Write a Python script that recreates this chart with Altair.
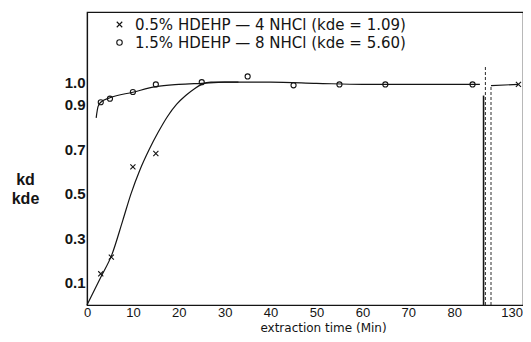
import altair as alt
import pandas as pd

# ---- data ----
S1 = "0.5% HDEHP — 4 NHCl (kde = 1.09)"
S2 = "1.5% HDEHP — 8 NHCl (kde = 5.60)"

# fitted curve, 0.5% series (x markers)
cx_t = [0, 3, 5.4, 7.8, 9.6, 11.5, 13.6, 15.5, 17.5, 19.5, 21.5, 23.5, 25, 27, 30, 33]
cx_v = [0, 0.125, 0.225, 0.38, 0.50, 0.605, 0.70, 0.775, 0.845, 0.90, 0.94, 0.972, 0.99, 1.0, 1.0, 1.0]
# fitted curve, 1.5% series (circles)
co_t = [2.0, 2.4, 3, 5, 10, 15, 20, 25, 30, 35, 40, 50, 60, 70, 80, 85.6]
co_v = [0.84, 0.89, 0.91, 0.93, 0.955, 0.98, 0.99, 0.995, 1.0, 1.0, 1.0, 0.995, 0.99, 0.99, 0.99, 0.99]
# curve after the axis break
ct_t = [124, 130]
ct_v = [0.985, 0.99]

# measured points
px_t = [3, 5.3, 10, 15, 130]
px_v = [0.14, 0.215, 0.62, 0.68, 0.99]
po_t = [3, 5, 10, 15, 25, 35, 45, 55, 65, 84]
po_v = [0.91, 0.926, 0.956, 0.99, 1.0, 1.026, 0.986, 0.99, 0.99, 0.99]

# axis-break lines
brk_solid_t = [86.4]
brk_solid_top = [0.94]
brk_dash_t = [86.8, 124]
brk_dash_top = [1.07, 0.985]

x_ticks = [0, 10, 20, 30, 40, 50, 60, 70, 80, 130]
y_ticks = [0.1, 0.3, 0.5, 0.7, 0.9, 1.0]

curves = pd.concat([
    pd.DataFrame({"t": cx_t, "v": cx_v, "g": "a"}),
    pd.DataFrame({"t": co_t, "v": co_v, "g": "b"}),
    pd.DataFrame({"t": ct_t, "v": ct_v, "g": "c"}),
])
points = pd.concat([
    pd.DataFrame({"t": px_t, "v": px_v, "s": S1}),
    pd.DataFrame({"t": po_t, "v": po_v, "s": S2}),
])
brk_solid = pd.DataFrame({"t": brk_solid_t, "v0": 0.0, "v1": brk_solid_top})
brk_dash = pd.DataFrame({"t": brk_dash_t, "v0": 0.0, "v1": brk_dash_top})

INK = "#141414"
xscale = alt.Scale(domain=[0, 86.8, 124, 131], range=[0, 398.4, 404, 436], nice=False, zero=False)
yscale = alt.Scale(domain=[0, 1.315], nice=False, zero=False)

xaxis = alt.Axis(values=x_ticks, format="d", title="extraction time (Min)", grid=False, ticks=False,
                 labelPadding=1, labelFont="Liberation Sans", labelFontSize=13, labelColor=INK,
                 labelAlign={"condition": {"test": "datum.value == 130", "value": "right"}, "value": "center"},
                 labelOffset={"condition": {"test": "datum.value == 130", "value": 4}, "value": 0},
                 titleFont="DejaVu Sans", titleFontSize=12, titleFontWeight="normal", titleColor=INK,
                 titleX=236, titleY=22, titleBaseline="middle", titleAnchor="start", titleAlign="center",
                 domainColor=INK, domainWidth=1.2, labelFlush=False)
yaxis = alt.Axis(values=y_ticks, format=".1f", title=["kd", "kde"], grid=False, ticks=False,
                 labelPadding=2, labelFont="Liberation Sans", labelFontSize=15, labelFontWeight="bold",
                 labelColor=INK, titleFont="Liberation Sans", titleFontSize=16, titleFontWeight="bold",
                 titleColor=INK, titleAngle=0, titleX=-62, titleY=167, titleAlign="center",
                 titleBaseline="middle", titleLineHeight=19, domainColor=INK, domainWidth=1.2)

X = alt.X("t:Q", scale=xscale, axis=xaxis)
Y = alt.Y("v:Q", scale=yscale, axis=yaxis)

lines = alt.Chart(curves).mark_line(color=INK, strokeWidth=1.2, interpolate="monotone").encode(
    x=X, y=Y, detail="g:N")

XPATH = "M-1,-1L1,1M1,-1L-1,1"
pts = alt.Chart(points).mark_point(filled=False, color=INK, strokeWidth=1.1, size=26, opacity=1).encode(
    x=alt.X("t:Q", scale=xscale), y=alt.Y("v:Q", scale=yscale),
    shape=alt.Shape("s:N", scale=alt.Scale(domain=[S1, S2], range=[XPATH, "circle"]),
                    legend=alt.Legend(title=None, orient="none", legendX=25, legendY=5,
                                      labelFont="DejaVu Sans", labelFontSize=15, labelColor=INK,
                                      labelOffset=8, rowPadding=2, padding=0, symbolSize=30,
                                      symbolStrokeColor=INK, symbolStrokeWidth=1.1,
                                      symbolFillColor="transparent", labelLimit=400)))

r_solid = alt.Chart(brk_solid).mark_rule(color=INK, strokeWidth=1.6).encode(
    x=alt.X("t:Q", scale=xscale), y=alt.Y("v0:Q", scale=yscale), y2="v1:Q")
r_dash = alt.Chart(brk_dash).mark_rule(color=INK, strokeWidth=0.9, strokeDash=[3, 2]).encode(
    x=alt.X("t:Q", scale=xscale), y=alt.Y("v0:Q", scale=yscale), y2="v1:Q")

chart = alt.layer(lines, pts, r_solid, r_dash).properties(
    width=436, height=293,
    padding={"left": 79, "top": 4, "right": 0, "bottom": 29},
    autosize=alt.AutoSizeParams(type="none"),
    background="white",
).configure_view(stroke=INK, strokeWidth=1.2)

chart.save("out.html", embed_options={"renderer": "svg", "actions": False})
